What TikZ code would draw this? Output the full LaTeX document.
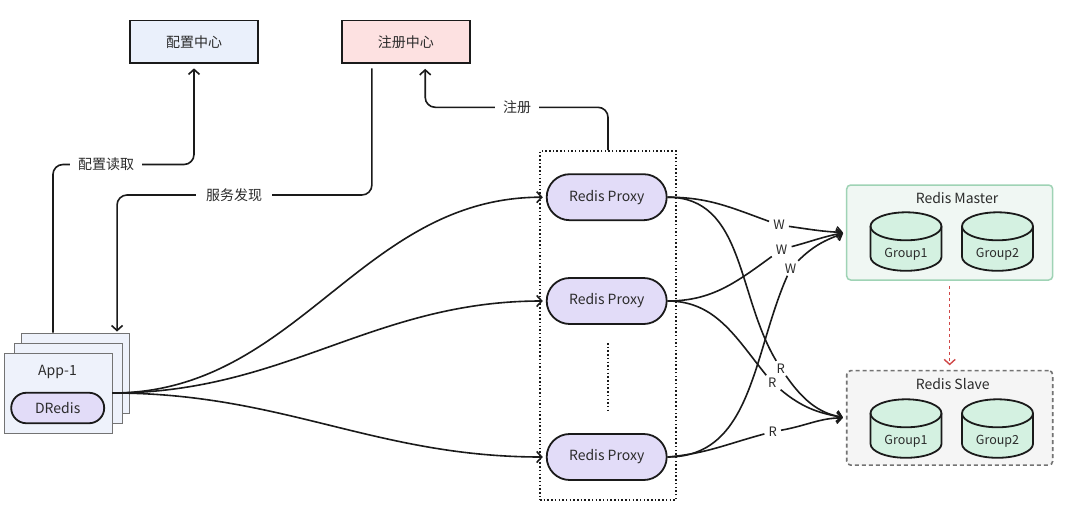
\documentclass[tikz,border=0pt]{standalone}
\usepackage{fontspec}
\setmainfont{Noto Sans CJK SC}
\usetikzlibrary{arrows.meta,shapes.misc,calc}
\definecolor{cfgfill}{HTML}{EAF0FB}
\definecolor{regfill}{HTML}{FDE1E1}
\definecolor{pxfill}{HTML}{E2DCF8}
\definecolor{appfill}{HTML}{EEF2FB}
\definecolor{msfill}{HTML}{F0F7F3}
\definecolor{msdraw}{HTML}{9FD3B5}
\definecolor{slfill}{HTML}{F5F5F5}
\definecolor{cylfill}{HTML}{D4F1E1}
\definecolor{txt}{HTML}{2B2B2B}
\definecolor{ink}{HTML}{1A1A1A}
\definecolor{reddash}{HTML}{D04848}
% #1 name, #2 centre x, #3 centre y of the top ellipse, #4 label
\newcommand{\mydbcyl}[4]{%
  \draw[dbline, fill=cylfill] (#2-35.5,#3) -- ++(0,-30.5)
     arc[start angle=180, end angle=360, x radius=35.5, y radius=14]
     -- ++(0,30.5)
     arc[start angle=0, end angle=180, x radius=35.5, y radius=14] -- cycle;
  \draw[dbline] (#2-35.5,#3) arc[start angle=180, end angle=360, x radius=35.5, y radius=14];
  \node[grp] (#1) at (#2,#3-28) {#4};
}
\begin{document}
\begin{tikzpicture}[x=1pt,y=1pt,
  every node/.style={font=\fontsize{14}{16}\selectfont, text=txt},
  centerbox/.style={draw=ink, line width=1.8pt, minimum width=128pt, minimum height=42.5pt, inner sep=0pt},
  pill/.style={rounded rectangle, draw=ink, line width=1.8pt, fill=pxfill, inner sep=0pt},
  appbox/.style={draw=black!55, line width=0.9pt, fill=appfill, minimum width=108pt, minimum height=80pt, inner sep=0pt},
  conn/.style={line width=1.6pt, draw=ink},
  arr/.style={conn, -{Straight Barb[length=5pt,width=11pt]}},
  lab/.style={fill=white, inner xsep=8pt, inner ysep=2pt},
  rw/.style={inner xsep=4pt, inner ysep=2.5pt, font=\fontsize{13}{15}\selectfont},
  dbline/.style={draw=ink, line width=1.8pt},
  grp/.style={font=\fontsize{12.5}{14}\selectfont},
  dotline/.style={line width=1.6pt, dash pattern=on 1.5pt off 2.2pt}
]
\useasboundingbox[fill=white] (0,0) rectangle (1080,-522);

% top centres
\node[centerbox, fill=cfgfill] (cfg) at (194,-41.7) {配置中心};
\node[centerbox, fill=regfill] (reg) at (405.8,-41.7) {注册中心};

% app stack
\node[appbox] (app3) at (75,-373) {};
\node[appbox] (app2) at (68,-383) {};
\node[appbox] (app1) at (58,-393) {};
\node (apptxt) at (57.5,-371.7) {App-1};
\node[pill, minimum width=93pt, minimum height=30.5pt] (dredis) at (57.7,-408) {DRedis};

% proxy group
\node[draw=ink, dotline, minimum width=136pt, minimum height=349pt, inner sep=0pt] (pg) at (608,-325.5) {};
\node[pill, minimum width=120pt, minimum height=46pt] (p1) at (606.7,-197.2) {Redis Proxy};
\node[pill, minimum width=120pt, minimum height=46pt] (p2) at (606.7,-301) {Redis Proxy};
\node[pill, minimum width=120pt, minimum height=46pt] (p3) at (606.7,-457) {Redis Proxy};
\coordinate (dtop) at (607.7,-343);
\coordinate (dbot) at (607.7,-411);
\draw[ink, dotline] (dtop) -- (dbot);

% master
\node[draw=msdraw, fill=msfill, line width=1.5pt, rounded corners=4pt, minimum width=206pt, minimum height=95pt, inner sep=0pt] (master) at (949.7,-232.5) {};
\node (mtitle) at (957,-198.3) {Redis Master};
\mydbcyl{mg1}{906}{-226.3}{Group1}
\mydbcyl{mg2}{997.5}{-226.3}{Group2}

% slave
\node[draw=black!55, dash pattern=on 4pt off 3pt, fill=slfill, line width=1.6pt, rounded corners=4pt, minimum width=206pt, minimum height=94.5pt, inner sep=0pt] (slave) at (949.7,-417.9) {};
\node (stitle) at (952.7,-384.3) {Redis Slave};
\mydbcyl{sg1}{906}{-413.3}{Group1}
\mydbcyl{sg2}{997.5}{-413.3}{Group2}

\draw[reddash, line width=1.4pt, dash pattern=on 3.5pt off 2.5pt, -{Straight Barb[length=5pt,width=11pt]}, shorten <=5pt, shorten >=4.5pt] (master.south) -- (slave.north);

% orthogonal connectors
\node[lab] (l1) at (106,-164.5) {配置读取};
\draw[conn, rounded corners=10pt] ([xshift=32.4pt]app3.north west) |- (l1.west);
\draw[arr, rounded corners=10pt, shorten >=4.5pt] (l1.east) -| (cfg.south);

\node[lab, inner xsep=10pt] (l2) at (234,-195) {服务发现};
\draw[conn, rounded corners=10pt, shorten <=4.5pt] ([xshift=31pt]reg.south west) |- (l2.east);
\draw[arr, rounded corners=10pt, shorten >=1pt] (l2.west) -| ([xshift=96.5pt]app3.north west);

\node[lab] (l3) at (517,-107.3) {注册};
\draw[conn, rounded corners=10pt] (pg.north) |- (l3.east);
\draw[arr, rounded corners=10pt, shorten >=5pt] (l3.west) -| ([xshift=84.3pt]reg.south west);

% app to proxies
\draw[arr, shorten >=3pt] (app1.east) to[out=0,in=180] (p1.west);
\draw[arr, shorten >=3pt] (app1.east) to[out=0,in=180] (p2.west);
\draw[arr, shorten >=3pt] (app1.east) to[out=0,in=180] (p3.west);

% proxies to master / slave
\node[rw] (w1) at (779,-225) {W};
\node[rw] (w2) at (781.7,-249.3) {W};
\node[rw] (w3) at (790.7,-268.3) {W};
\node[rw] (r1) at (780.7,-368.3) {R};
\node[rw] (r2) at (772.3,-382.7) {R};
\node[rw] (r3) at (772.7,-431.7) {R};

\draw[conn] (p1.east) to[out=0,in=160] (w1);
\draw[arr, shorten >=3pt] (w1) to[out=-8,in=178] (master.west);
\draw[conn] (p2.east) to[out=0,in=216] (w2);
\draw[arr, shorten >=3pt] (w2) to[out=15,in=190] (master.west);
\draw[conn] (p3.east) to[out=0,in=246] (w3);
\draw[arr, shorten >=3pt] (w3) to[out=45,in=200] (master.west);

\draw[conn] (p1.east) to[out=0,in=121] (r1);
\draw[arr, shorten >=3pt] (r1) to[out=-55,in=170] (slave.west);
\draw[conn] (p2.east) to[out=0,in=129] (r2);
\draw[arr, shorten >=3pt] (r2) to[out=-40,in=170] (slave.west);
\draw[conn] (p3.east) to[out=5,in=195] (r3);
\draw[arr, shorten >=3pt] (r3) to[out=10,in=180] (slave.west);
\end{tikzpicture}
\end{document}
